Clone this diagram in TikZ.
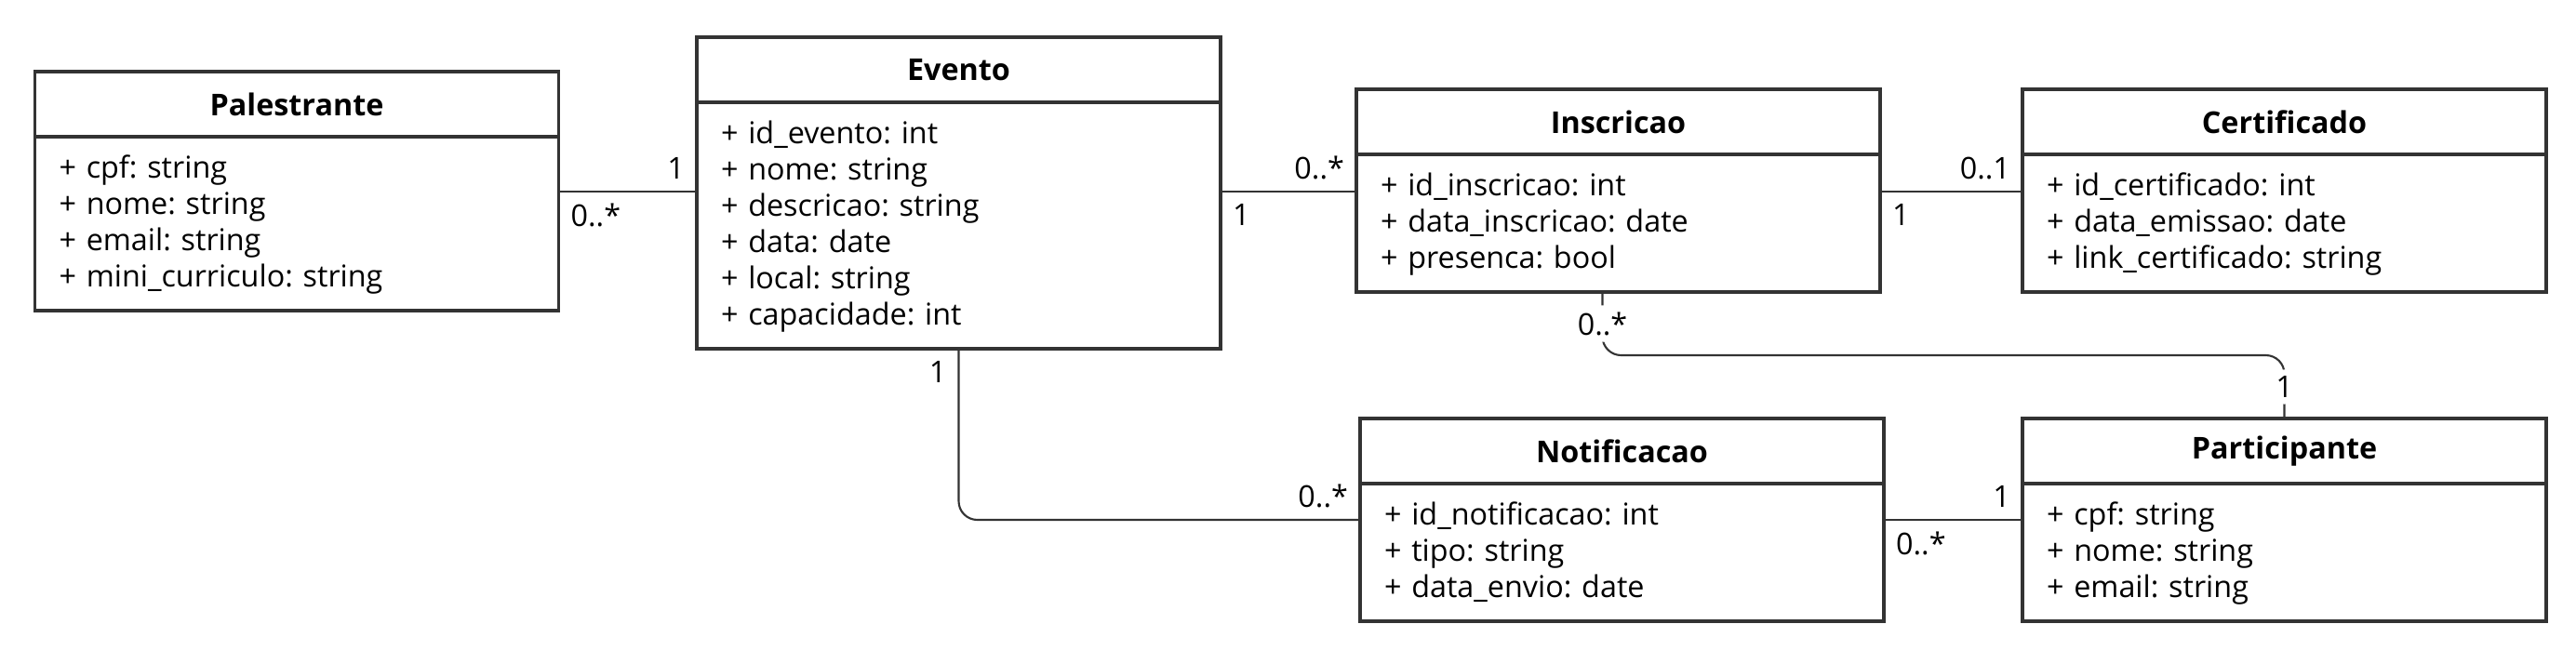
\documentclass[tikz,border=0pt]{standalone}
\usepackage{fontspec}
\setmainfont{Open Sans}
\usetikzlibrary{positioning}

\definecolor{borda}{HTML}{333333}
\frenchspacing

\begin{document}
\begin{tikzpicture}[
  cabec/.style={draw=borda, line width=0.9pt, outer sep=0pt, inner sep=0pt,
    minimum width=5.63cm, minimum height=0.70cm, anchor=north west,
    font=\fontsize{9.2pt}{0.39cm}\selectfont\bfseries},
  corpo/.style={draw=borda, line width=0.9pt, outer sep=0pt,
    inner xsep=0.26cm, inner ysep=0.155cm, text width=5.11cm, align=left,
    anchor=north, font=\fontsize{9.2pt}{0.39cm}\selectfont,
    execute at begin node={\rule{0pt}{0.29cm}},
    execute at end node={\rule[-0.10cm]{0pt}{0.10cm}}},
  assoc/.style={draw=borda, line width=0.6pt},
  mult/.style={inner sep=0.12cm, font=\fontsize{9.2pt}{0.39cm}\selectfont},
  multf/.style={inner sep=0.07cm, fill=white, font=\fontsize{9.2pt}{0.39cm}\selectfont}
]
  %枠
  \useasboundingbox (0,0) rectangle (27.69,7.13);

  %クラス
  \node[cabec] (palestrante) at (0.375,6.36) {Palestrante};
  \node[corpo, below=0pt of palestrante] (palestrante-b)
    {+ cpf: string\\+ nome: string\\+ email: string\\+ mini\_curriculo: string};

  \node[cabec] (evento) at (7.49,6.73) {Evento};
  \node[corpo, below=0pt of evento] (evento-b)
    {+ id\_evento: int\\+ nome: string\\+ descricao: string\\+ data: date\\+ local: string\\+ capacidade: int};

  \node[cabec] (inscricao) at (14.58,6.17) {Inscricao};
  \node[corpo, below=0pt of inscricao] (inscricao-b)
    {+ id\_inscricao: int\\+ data\_inscricao: date\\+ presenca: bool};

  \node[cabec] (certificado) at (21.74,6.17) {Certificado};
  \node[corpo, below=0pt of certificado] (certificado-b)
    {+ id\_certificado: int\\+ data\_emissao: date\\+ link\_certificado: string};

  \node[cabec] (notificacao) at (14.62,2.63) {Notificacao};
  \node[corpo, below=0pt of notificacao] (notificacao-b)
    {+ id\_notificacao: int\\+ tipo: string\\+ data\_envio: date};

  \node[cabec] (participante) at (21.74,2.63) {Participante};
  \node[corpo, below=0pt of participante] (participante-b)
    {+ cpf: string\\+ nome: string\\+ email: string};

  %線の高さ
  \coordinate (R1) at (0,5.07);
  \coordinate (R2) at (0,1.54);
  \coordinate (R3) at (0,3.31);

  %関連
  \draw[assoc] (palestrante-b.east |- R1)
    -- node[pos=0, anchor=north west, mult] {0..*}
       node[pos=1, anchor=south east, mult] {1}
    (evento-b.west |- R1);

  \draw[assoc] (evento-b.east |- R1)
    -- node[pos=0, anchor=north west, mult] {1}
       node[pos=1, anchor=south east, mult] {0..*}
    (inscricao-b.west |- R1);

  \draw[assoc] (inscricao-b.east |- R1)
    -- node[pos=0, anchor=north west, mult] {1}
       node[pos=1, anchor=south east, mult] {0..1}
    (certificado-b.west |- R1);

  \draw[assoc] (notificacao-b.east |- R2)
    -- node[pos=0, anchor=north west, mult] {0..*}
       node[pos=1, anchor=south east, mult] {1}
    (participante-b.west |- R2);

  \draw[assoc, rounded corners=0.2cm] (evento-b.south)
    |- node[pos=0, anchor=north east, mult] {1}
       node[pos=1, anchor=south east, mult] {0..*}
    (notificacao-b.west |- R2);

  \coordinate (I) at ([xshift=-0.17cm]inscricao-b.south);
  \draw[assoc, rounded corners=0.2cm] (I)
    -- node[pos=0.5, multf] {0..*} (I |- R3)
    -| node[pos=0.75, multf] {1} (participante.north);
\end{tikzpicture}
\end{document}
